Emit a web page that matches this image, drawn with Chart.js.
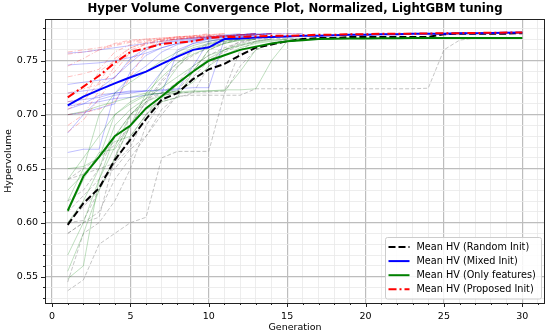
<!DOCTYPE html>
<html>
<head>
<meta charset="utf-8">
<script src="https://cdn.jsdelivr.net/npm/chart.js@4.4.2/dist/chart.umd.min.js"></script>
<style>
  html, body { margin: 0; padding: 0; background: #fff; }
</style>
</head>
<body>
<canvas id="hv" width="550" height="336"></canvas>
<script>
// Hyper volume convergence — mean curves plus the faint individual runs behind them
const GENERATIONS = [1,2,3,4,5,6,7,8,9,10,11,12,13,14,15,16,17,18,19,20,21,22,23,24,25,26,27,28,29,30];
const X_TICKS = [0, 5, 10, 15, 20, 25, 30];
const Y_TICKS = [0.55, 0.60, 0.65, 0.70, 0.75];

const MEAN_RANDOM = [0.598,0.618,0.632,0.658,0.677,0.696,0.714,0.720,0.733,0.742,0.747,0.755,0.762,0.765,0.768,0.770,0.771,0.771,0.772,0.772,0.772,0.772,0.772,0.772,0.7745,0.775,0.775,0.775,0.775,0.7755];
const MEAN_MIXED = [0.7087,0.7167,0.7229,0.729,0.7346,0.7398,0.747,0.7537,0.760,0.7624,0.770,0.7705,0.7715,0.772,0.7725,0.773,0.773,0.7735,0.774,0.774,0.7745,0.7745,0.775,0.775,0.775,0.7755,0.7755,0.7757,0.7758,0.776];
const MEAN_ONLY = [0.611,0.643,0.661,0.680,0.690,0.706,0.717,0.729,0.740,0.750,0.755,0.760,0.763,0.766,0.768,0.769,0.770,0.7703,0.7705,0.7705,0.7707,0.7708,0.771,0.771,0.771,0.771,0.771,0.771,0.771,0.771];
const MEAN_PROPOSED = [0.716,0.726,0.736,0.748,0.758,0.7615,0.7655,0.7667,0.768,0.771,0.772,0.772,0.7725,0.773,0.773,0.7735,0.774,0.774,0.7745,0.7745,0.775,0.775,0.775,0.7752,0.7755,0.7755,0.7757,0.7758,0.776,0.776];

// individual runs (faint)
const RUNS_RANDOM = [
  [0.537,0.547,0.580,0.590,0.600,0.605,0.660,0.666,0.666,0.666,0.720,0.745,0.760,0.766,0.770,0.771],
  [0.590,0.600,0.610,0.640,0.660,0.680,0.705,0.717,0.718,0.718,0.718,0.718,0.724,0.724,0.724,0.724,0.724,0.724,0.724,0.724,0.724,0.724,0.724,0.7245,0.760,0.769,0.771,0.771,0.771,0.771],
  [0.545,0.590,0.600,0.620,0.650,0.690,0.712,0.728,0.742,0.750,0.758,0.764,0.768,0.770,0.771],
  [0.600,0.615,0.630,0.660,0.690,0.712,0.720,0.730,0.745,0.755,0.762,0.767,0.770,0.771],
  [0.610,0.625,0.640,0.650,0.668,0.680,0.700,0.718,0.735,0.750,0.760,0.766,0.770],
  [0.590,0.600,0.605,0.660,0.700,0.715,0.720,0.722,0.740,0.760,0.766,0.770],
  [0.640,0.645,0.650,0.655,0.670,0.700,0.718,0.720,0.721,0.721,0.722,0.760,0.768,0.770],
  [0.620,0.630,0.650,0.680,0.700,0.710,0.730,0.745,0.755,0.762,0.767,0.770],
  [0.600,0.602,0.630,0.655,0.680,0.700,0.712,0.716,0.720,0.745,0.760,0.768,0.770],
  [0.640,0.650,0.660,0.672,0.690,0.712,0.732,0.748,0.760,0.766,0.770],
];
const RUNS_MIXED = [
  [0.757,0.758,0.760,0.762,0.764,0.766,0.768,0.770,0.771,0.772,0.773,0.774,0.775,0.775,0.775,0.775],
  [0.746,0.747,0.748,0.750,0.753,0.757,0.762,0.766,0.769,0.771,0.772,0.773,0.774,0.775],
  [0.712,0.714,0.716,0.720,0.722,0.722,0.740,0.760,0.766,0.768,0.770,0.772,0.774,0.775],
  [0.705,0.710,0.718,0.720,0.721,0.722,0.722,0.723,0.745,0.768,0.771,0.773,0.774,0.775],
  [0.683,0.700,0.714,0.718,0.720,0.722,0.723,0.724,0.725,0.725,0.770,0.772,0.774,0.775],
  [0.700,0.702,0.706,0.710,0.740,0.755,0.762,0.766,0.769,0.771,0.773,0.774,0.775],
  [0.665,0.668,0.668,0.720,0.735,0.745,0.758,0.765,0.768,0.770,0.772,0.774,0.775],
  [0.720,0.722,0.724,0.735,0.748,0.760,0.766,0.768,0.770,0.772,0.773,0.774,0.775],
  [0.708,0.710,0.712,0.715,0.716,0.718,0.720,0.758,0.766,0.770,0.772,0.774,0.775],
  [0.728,0.730,0.732,0.734,0.752,0.762,0.766,0.769,0.771,0.772,0.774,0.775],
];
const RUNS_ONLY = [
  [0.548,0.560,0.640,0.680,0.700,0.712,0.718,0.720,0.721,0.722,0.722,0.740,0.760,0.766,0.768,0.770],
  [0.600,0.620,0.650,0.690,0.705,0.715,0.740,0.755,0.762,0.766,0.768,0.770],
  [0.640,0.660,0.680,0.700,0.710,0.718,0.720,0.721,0.722,0.722,0.723,0.723,0.724,0.750,0.768,0.770],
  [0.620,0.650,0.700,0.720,0.730,0.740,0.750,0.758,0.764,0.768,0.770],
  [0.555,0.590,0.630,0.660,0.690,0.705,0.712,0.716,0.740,0.760,0.766,0.769,0.770],
  [0.650,0.652,0.660,0.700,0.712,0.719,0.720,0.722,0.730,0.745,0.755,0.762,0.766,0.768,0.770],
  [0.610,0.640,0.665,0.668,0.690,0.720,0.735,0.748,0.756,0.762,0.766,0.769,0.770],
  [0.630,0.645,0.662,0.675,0.680,0.700,0.715,0.728,0.740,0.752,0.760,0.765,0.768,0.770],
  [0.700,0.703,0.708,0.712,0.716,0.720,0.724,0.744,0.760,0.765,0.768,0.770],
  [0.570,0.600,0.640,0.670,0.700,0.715,0.725,0.735,0.745,0.755,0.760,0.764,0.767,0.769,0.770,0.770,0.770,0.770],
];
const RUNS_PROPOSED = [
  [0.758,0.760,0.762,0.765,0.768,0.770,0.771,0.772,0.772,0.773,0.773,0.774,0.774,0.775,0.775,0.775],
  [0.756,0.758,0.760,0.764,0.767,0.769,0.770,0.771,0.772,0.773,0.773,0.774,0.774,0.775],
  [0.705,0.712,0.730,0.752,0.762,0.766,0.769,0.770,0.771,0.772,0.773,0.773,0.774,0.775],
  [0.690,0.700,0.722,0.745,0.760,0.765,0.768,0.770,0.771,0.772,0.773,0.774,0.775],
  [0.720,0.724,0.728,0.740,0.758,0.766,0.769,0.771,0.772,0.772,0.773,0.774,0.775],
  [0.700,0.702,0.705,0.712,0.735,0.760,0.767,0.770,0.771,0.772,0.773,0.774,0.775],
  [0.745,0.752,0.760,0.766,0.769,0.770,0.771,0.772,0.773,0.774,0.775],
  [0.684,0.695,0.715,0.735,0.750,0.762,0.768,0.770,0.772,0.773,0.775],
  [0.735,0.738,0.742,0.758,0.765,0.768,0.770,0.772,0.773,0.774,0.775],
  [0.712,0.715,0.740,0.750,0.762,0.767,0.770,0.772,0.773,0.775],
];

const FONT = 'DejaVu Sans';
const AXIS_MIN = { x: -0.45, y: 0.5256 };
const AXIS_MAX = { x: 31.45, y: 0.7886 };

const pts = vals => vals.map((v, i) => ({ x: GENERATIONS[i], y: v }));

const mean = (label, vals, color, dash) => ({
  label, data: pts(vals), borderColor: color, borderWidth: 2,
  borderDash: dash, pointRadius: 0, tension: 0, fill: false,
});
const run = (vals, color, dash) => ({
  data: pts(vals), borderColor: color, borderWidth: 1,
  borderDash: dash, pointRadius: 0, tension: 0, fill: false,
});

const LEGEND = [
  { text: 'Mean HV (Random Init)', color: '#000000', dash: [7, 3] },
  { text: 'Mean HV (Mixed Init)', color: '#0000ff', dash: [] },
  { text: 'Mean HV (Only features)', color: '#008000', dash: [] },
  { text: 'Mean HV (Proposed Init)', color: '#ff0000', dash: [8, 3, 2, 3] },
];

const datasets = [
  mean('Mean HV (Proposed Init)', MEAN_PROPOSED, '#ff0000', [8, 3, 2, 3]),
  mean('Mean HV (Only features)', MEAN_ONLY, '#008000', []),
  mean('Mean HV (Mixed Init)', MEAN_MIXED, '#0000ff', []),
  mean('Mean HV (Random Init)', MEAN_RANDOM, '#000000', [7, 3]),
  ...RUNS_PROPOSED.map(r => run(r, 'rgba(255,0,0,0.25)', [5, 2, 1, 2])),
  ...RUNS_ONLY.map(r => run(r, 'rgba(0,128,0,0.25)', [])),
  ...RUNS_MIXED.map(r => run(r, 'rgba(0,0,255,0.25)', [])),
  ...RUNS_RANDOM.map(r => run(r, 'rgba(128,128,128,0.45)', [4, 2])),
];

const isMajorX = v => X_TICKS.includes(Math.round(v)) && Math.abs(v - Math.round(v)) < 1e-6;
const isMajorY = v => Y_TICKS.some(t => Math.abs(t - v) < 1e-6);

// ticks, spines, title, legend
const decor = {
  id: 'decor',
  afterDraw(chart) {
    const { ctx, chartArea: a, scales } = chart;
    ctx.save();
    ctx.strokeStyle = '#222';
    ctx.lineWidth = 1;
    // tick marks
    scales.x.ticks.forEach(t => {
      const px = Math.round(scales.x.getPixelForValue(t.value)) + 0.5;
      const len = isMajorX(t.value) ? 4 : 2;
      ctx.beginPath(); ctx.moveTo(px, a.bottom); ctx.lineTo(px, a.bottom + len); ctx.stroke();
    });
    scales.y.ticks.forEach(t => {
      const py = Math.round(scales.y.getPixelForValue(t.value)) + 0.5;
      const len = isMajorY(t.value) ? 4 : 2;
      ctx.beginPath(); ctx.moveTo(a.left, py); ctx.lineTo(a.left - len, py); ctx.stroke();
    });
    // spines
    ctx.strokeRect(Math.round(a.left) + 0.5, Math.round(a.top) + 0.5,
      Math.round(a.right - a.left) - 1, Math.round(a.bottom - a.top));

    // title
    ctx.fillStyle = '#000';
    ctx.font = `bold 11.7px "${FONT}"`;
    ctx.textAlign = 'center';
    ctx.textBaseline = 'middle';
    ctx.fillText('Hyper Volume Convergence Plot, Normalized, LightGBM tuning', (a.left + a.right) / 2, 9);

    // legend box, lower right
    const bx = 385, by = 237.5, bw = 156, bh = 61.5;
    ctx.fillStyle = 'rgba(255,255,255,0.85)';
    ctx.strokeStyle = '#cccccc';
    ctx.beginPath();
    ctx.roundRect(bx + 0.5, by, bw, bh, 2);
    ctx.fill(); ctx.stroke();
    ctx.font = `9.7px "${FONT}"`;
    ctx.textAlign = 'left';
    LEGEND.forEach((item, i) => {
      const yy = 247 + i * 14.1;
      ctx.strokeStyle = item.color;
      ctx.lineWidth = 2;
      ctx.setLineDash(item.dash);
      ctx.beginPath(); ctx.moveTo(388.5, yy); ctx.lineTo(409.5, yy); ctx.stroke();
      ctx.setLineDash([]);
      ctx.fillStyle = '#000';
      ctx.fillText(item.text, 416.5, yy);
    });
    ctx.restore();
  },
};

new Chart(document.getElementById('hv'), {
  type: 'line',
  data: { datasets },
  plugins: [decor],
  options: {
    responsive: false,
    animation: false,
    layout: { padding: { top: 19, right: 5, left: 0, bottom: 0 } },
    plugins: { legend: { display: false }, tooltip: { enabled: false }, title: { display: false } },
    scales: {
      x: {
        type: 'linear', min: AXIS_MIN.x, max: AXIS_MAX.x,
        afterBuildTicks: sc => {
          sc.ticks = [];
          for (let k = 0; k <= 31; k++) sc.ticks.push({ value: k });
        },
        afterFit: sc => { sc.height = 33; },
        border: { display: false },
        grid: {
          drawTicks: false,
          color: c => isMajorX(c.tick.value) ? '#bdbdbd' : '#e8e8e8',
          lineWidth: c => isMajorX(c.tick.value) ? 1.2 : 0.8,
        },
        ticks: {
          autoSkip: false, maxRotation: 0, padding: 8, color: '#000',
          font: { family: FONT, size: 9.5 },
          callback: v => isMajorX(v) ? String(Math.round(v)) : '',
        },
        title: { display: true, text: 'Generation', color: '#000', font: { family: FONT, size: 9.5 }, padding: { top: 0, bottom: 3 } },
      },
      y: {
        type: 'linear', min: AXIS_MIN.y, max: AXIS_MAX.y,
        afterBuildTicks: sc => {
          sc.ticks = [];
          for (let k = 53; k <= 78; k++) sc.ticks.push({ value: k / 100 });
        },
        afterFit: sc => { sc.width = 45; },
        border: { display: false },
        grid: {
          drawTicks: false,
          color: c => isMajorY(c.tick.value) ? '#bdbdbd' : '#e8e8e8',
          lineWidth: c => isMajorY(c.tick.value) ? 1.2 : 0.8,
        },
        ticks: {
          autoSkip: false, padding: 7, color: '#000',
          font: { family: FONT, size: 9.5 },
          callback: v => isMajorY(v) ? v.toFixed(2) : '',
        },
        title: { display: true, text: 'Hypervolume', color: '#000', font: { family: FONT, size: 9.5 }, padding: { top: 3, bottom: 0 } },
      },
    },
  },
});
</script>
</body>
</html>
